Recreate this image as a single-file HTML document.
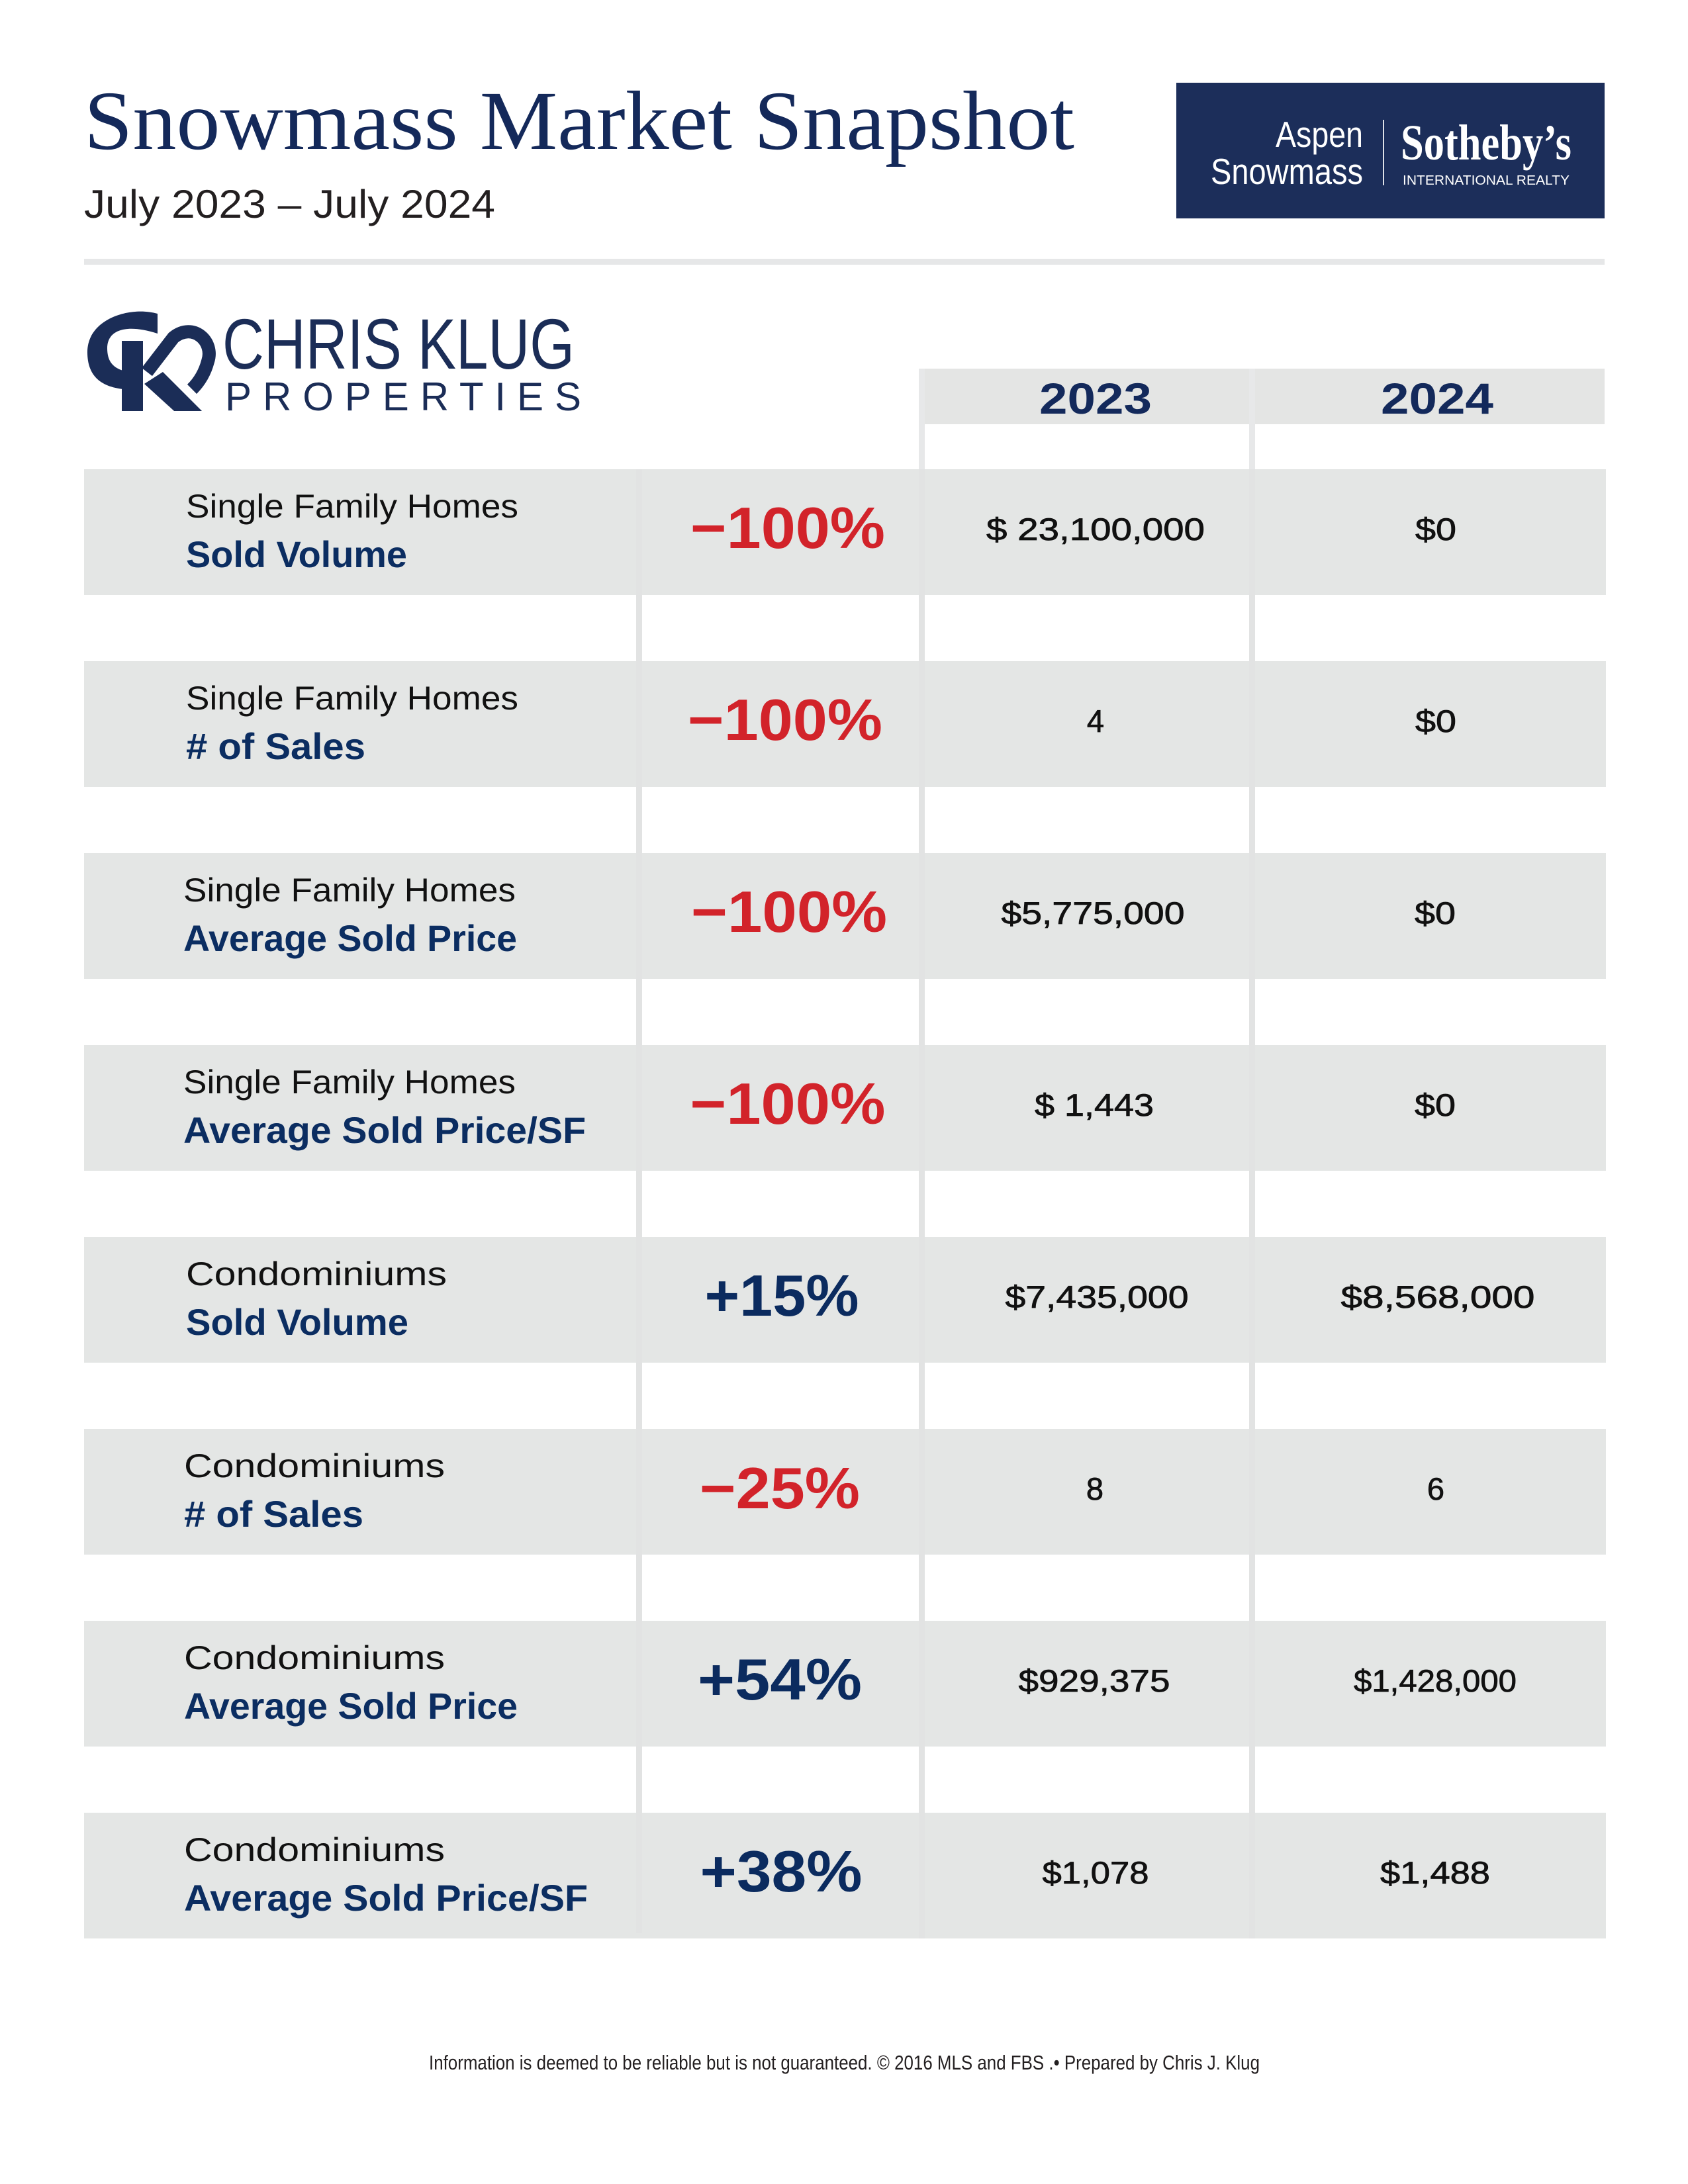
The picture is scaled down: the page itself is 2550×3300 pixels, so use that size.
<!DOCTYPE html>
<html>
<head>
<meta charset="utf-8">
<style>
  html, body { margin: 0; padding: 0; background: #ffffff; }
  body { width: 2550px; height: 3300px; overflow: hidden; }
  svg { display: block; }
  .sans { font-family: "Liberation Sans", "DejaVu Sans", sans-serif; }
  .serif { font-family: "Liberation Serif", "DejaVu Serif", serif; }
</style>
</head>
<body>
<svg width="2550" height="3300" viewBox="0 0 2550 3300" xmlns="http://www.w3.org/2000/svg">
  <rect x="0" y="0" width="2550" height="3300" fill="#ffffff"/>

  <!-- Title -->
  <text class="serif" x="127" y="225" font-size="127" fill="#14295a" textLength="1496" lengthAdjust="spacingAndGlyphs">Snowmass Market Snapshot</text>
  <text class="sans" x="127" y="329" font-size="60" fill="#231f20" textLength="621" lengthAdjust="spacingAndGlyphs">July 2023 – July 2024</text>

  <!-- Sotheby's box -->
  <rect x="1777" y="125" width="647" height="205" fill="#1c2e5a"/>
  <text class="sans" x="2059" y="222" font-size="55" fill="#ffffff" text-anchor="end" textLength="132" lengthAdjust="spacingAndGlyphs">Aspen</text>
  <text class="sans" x="2059" y="278" font-size="55" fill="#ffffff" text-anchor="end" textLength="230" lengthAdjust="spacingAndGlyphs">Snowmass</text>
  <rect x="2089" y="181" width="2" height="99" fill="#ffffff" opacity="0.85"/>
  <text class="serif" x="2116" y="241" font-size="76" font-weight="bold" fill="#ffffff" textLength="258" lengthAdjust="spacingAndGlyphs">Sotheby’s</text>
  <text class="sans" x="2119" y="279" font-size="20" fill="#ffffff" textLength="252" lengthAdjust="spacingAndGlyphs">INTERNATIONAL REALTY</text>

  <!-- Top rule -->
  <rect x="127" y="391" width="2297" height="9" fill="#e6e7e8"/>

  <!-- Chris Klug logo mark -->
  <g fill="#1b2d57">
    <path d="M 238 474 C 196 462, 132 482, 132 532 C 132 568, 152 584, 186 588 L 186 560 C 169 555, 162 544, 162 526 C 162 500, 188 488, 238 504 Z"/>
    <rect x="184" y="515" width="32" height="106"/>
    <polygon points="218,580 246,562 305,621 263,621"/>
    <path d="M 222 562 L 262 510 C 292 486, 324 516, 314 546 C 309 565, 300 578, 290 588" fill="none" stroke="#1b2d57" stroke-width="20"/>
  </g>
  <text class="sans" x="336" y="557" font-size="108" fill="#1b2d57" textLength="532" lengthAdjust="spacingAndGlyphs">CHRIS KLUG</text>
  <text class="sans" x="340" y="620" font-size="60" fill="#1b2d57" textLength="538" lengthAdjust="spacing">PROPERTIES</text>

  <!-- Header cells -->
  <rect x="1397" y="557" width="1027" height="84" fill="#e4e5e4"/>
  <text class="sans" x="1655" y="625" font-size="66" font-weight="bold" fill="#13295b" text-anchor="middle" textLength="170" lengthAdjust="spacingAndGlyphs">2023</text>
  <text class="sans" x="2171" y="625" font-size="66" font-weight="bold" fill="#13295b" text-anchor="middle" textLength="170" lengthAdjust="spacingAndGlyphs">2024</text>

  <!-- Column lines (behind rows) -->
  <rect x="961" y="709" width="9" height="2212" fill="#e7e8e9"/>
  <rect x="1388" y="557" width="9" height="2372" fill="#e7e8e9"/>
  <rect x="1887" y="557" width="9" height="2372" fill="#e7e8e9"/>

  <!-- Rows -->
  <g fill="#e4e6e5">
    <rect x="127" y="709" width="2299" height="190"/>
    <rect x="127" y="999" width="2299" height="190"/>
    <rect x="127" y="1289" width="2299" height="190"/>
    <rect x="127" y="1579" width="2299" height="190"/>
    <rect x="127" y="1869" width="2299" height="190"/>
    <rect x="127" y="2159" width="2299" height="190"/>
    <rect x="127" y="2449" width="2299" height="190"/>
    <rect x="127" y="2739" width="2299" height="190"/>
  </g>
  <!-- faint column lines inside rows -->
  <g fill="#e2e3e3">
    <rect x="961" y="709" width="9" height="2212"/>
    <rect x="1388" y="709" width="9" height="2220"/>
    <rect x="1887" y="709" width="9" height="2220"/>
  </g>

  <!-- Row 1 -->
  <g class="sans">
    <text x="281" y="782" font-size="50" fill="#111111" textLength="502" lengthAdjust="spacingAndGlyphs">Single Family Homes</text>
    <text x="281" y="857" font-size="56" font-weight="bold" fill="#0b2d61" textLength="334" lengthAdjust="spacingAndGlyphs">Sold Volume</text>
    <text x="1190" y="828" font-size="88" font-weight="bold" fill="#d2232a" text-anchor="middle" textLength="294" lengthAdjust="spacingAndGlyphs">−100%</text>
    <text x="1655" y="816" font-size="47" fill="#111111" stroke="#111111" stroke-width="0.8" text-anchor="middle" textLength="330" lengthAdjust="spacingAndGlyphs">$ 23,100,000</text>
    <text x="2169" y="816" font-size="47" fill="#111111" stroke="#111111" stroke-width="0.8" text-anchor="middle" textLength="62" lengthAdjust="spacingAndGlyphs">$0</text>
  </g>

  <!-- Row 2 -->
  <g class="sans">
    <text x="281" y="1072" font-size="50" fill="#111111" textLength="502" lengthAdjust="spacingAndGlyphs">Single Family Homes</text>
    <text x="281" y="1147" font-size="56" font-weight="bold" fill="#0b2d61" textLength="271" lengthAdjust="spacingAndGlyphs"># of Sales</text>
    <text x="1186" y="1118" font-size="88" font-weight="bold" fill="#d2232a" text-anchor="middle" textLength="294" lengthAdjust="spacingAndGlyphs">−100%</text>
    <text x="1655" y="1106" font-size="47" fill="#111111" stroke="#111111" stroke-width="0.8" text-anchor="middle">4</text>
    <text x="2169" y="1106" font-size="47" fill="#111111" stroke="#111111" stroke-width="0.8" text-anchor="middle" textLength="62" lengthAdjust="spacingAndGlyphs">$0</text>
  </g>

  <!-- Row 3 -->
  <g class="sans">
    <text x="277" y="1362" font-size="50" fill="#111111" textLength="502" lengthAdjust="spacingAndGlyphs">Single Family Homes</text>
    <text x="277" y="1437" font-size="56" font-weight="bold" fill="#0b2d61" textLength="504" lengthAdjust="spacingAndGlyphs">Average Sold Price</text>
    <text x="1192" y="1408" font-size="88" font-weight="bold" fill="#d2232a" text-anchor="middle" textLength="296" lengthAdjust="spacingAndGlyphs">−100%</text>
    <text x="1651" y="1396" font-size="47" fill="#111111" stroke="#111111" stroke-width="0.8" text-anchor="middle" textLength="277" lengthAdjust="spacingAndGlyphs">$5,775,000</text>
    <text x="2168" y="1396" font-size="47" fill="#111111" stroke="#111111" stroke-width="0.8" text-anchor="middle" textLength="62" lengthAdjust="spacingAndGlyphs">$0</text>
  </g>

  <!-- Row 4 -->
  <g class="sans">
    <text x="277" y="1652" font-size="50" fill="#111111" textLength="502" lengthAdjust="spacingAndGlyphs">Single Family Homes</text>
    <text x="277" y="1727" font-size="56" font-weight="bold" fill="#0b2d61" textLength="608" lengthAdjust="spacingAndGlyphs">Average Sold Price/SF</text>
    <text x="1190" y="1698" font-size="88" font-weight="bold" fill="#d2232a" text-anchor="middle" textLength="295" lengthAdjust="spacingAndGlyphs">−100%</text>
    <text x="1653" y="1686" font-size="47" fill="#111111" stroke="#111111" stroke-width="0.8" text-anchor="middle" textLength="180" lengthAdjust="spacingAndGlyphs">$ 1,443</text>
    <text x="2168" y="1686" font-size="47" fill="#111111" stroke="#111111" stroke-width="0.8" text-anchor="middle" textLength="62" lengthAdjust="spacingAndGlyphs">$0</text>
  </g>

  <!-- Row 5 -->
  <g class="sans">
    <text x="281" y="1942" font-size="50" fill="#111111" textLength="394" lengthAdjust="spacingAndGlyphs">Condominiums</text>
    <text x="281" y="2017" font-size="56" font-weight="bold" fill="#0b2d61" textLength="336" lengthAdjust="spacingAndGlyphs">Sold Volume</text>
    <text x="1181" y="1988" font-size="88" font-weight="bold" fill="#0b2b5f" text-anchor="middle" textLength="233" lengthAdjust="spacingAndGlyphs">+15%</text>
    <text x="1657" y="1976" font-size="47" fill="#111111" stroke="#111111" stroke-width="0.8" text-anchor="middle" textLength="277" lengthAdjust="spacingAndGlyphs">$7,435,000</text>
    <text x="2172" y="1976" font-size="47" fill="#111111" stroke="#111111" stroke-width="0.8" text-anchor="middle" textLength="293" lengthAdjust="spacingAndGlyphs">$8,568,000</text>
  </g>

  <!-- Row 6 -->
  <g class="sans">
    <text x="278" y="2232" font-size="50" fill="#111111" textLength="394" lengthAdjust="spacingAndGlyphs">Condominiums</text>
    <text x="278" y="2307" font-size="56" font-weight="bold" fill="#0b2d61" textLength="271" lengthAdjust="spacingAndGlyphs"># of Sales</text>
    <text x="1178" y="2279" font-size="88" font-weight="bold" fill="#d2232a" text-anchor="middle" textLength="242" lengthAdjust="spacingAndGlyphs">−25%</text>
    <text x="1654" y="2266" font-size="47" fill="#111111" stroke="#111111" stroke-width="0.8" text-anchor="middle">8</text>
    <text x="2169" y="2266" font-size="47" fill="#111111" stroke="#111111" stroke-width="0.8" text-anchor="middle">6</text>
  </g>

  <!-- Row 7 -->
  <g class="sans">
    <text x="278" y="2522" font-size="50" fill="#111111" textLength="394" lengthAdjust="spacingAndGlyphs">Condominiums</text>
    <text x="278" y="2597" font-size="56" font-weight="bold" fill="#0b2d61" textLength="504" lengthAdjust="spacingAndGlyphs">Average Sold Price</text>
    <text x="1178" y="2568" font-size="88" font-weight="bold" fill="#0b2b5f" text-anchor="middle" textLength="248" lengthAdjust="spacingAndGlyphs">+54%</text>
    <text x="1653" y="2556" font-size="47" fill="#111111" stroke="#111111" stroke-width="0.8" text-anchor="middle" textLength="229" lengthAdjust="spacingAndGlyphs">$929,375</text>
    <text x="2168" y="2556" font-size="47" fill="#111111" stroke="#111111" stroke-width="0.8" text-anchor="middle" textLength="246" lengthAdjust="spacingAndGlyphs">$1,428,000</text>
  </g>

  <!-- Row 8 -->
  <g class="sans">
    <text x="278" y="2812" font-size="50" fill="#111111" textLength="394" lengthAdjust="spacingAndGlyphs">Condominiums</text>
    <text x="278" y="2887" font-size="56" font-weight="bold" fill="#0b2d61" textLength="610" lengthAdjust="spacingAndGlyphs">Average Sold Price/SF</text>
    <text x="1180" y="2858" font-size="88" font-weight="bold" fill="#0b2b5f" text-anchor="middle" textLength="245" lengthAdjust="spacingAndGlyphs">+38%</text>
    <text x="1655" y="2846" font-size="47" fill="#111111" stroke="#111111" stroke-width="0.8" text-anchor="middle" textLength="161" lengthAdjust="spacingAndGlyphs">$1,078</text>
    <text x="2168" y="2846" font-size="47" fill="#111111" stroke="#111111" stroke-width="0.8" text-anchor="middle" textLength="166" lengthAdjust="spacingAndGlyphs">$1,488</text>
  </g>

  <!-- Footer -->
  <text class="sans" x="648" y="3127" font-size="31" fill="#231f20" textLength="1255" lengthAdjust="spacingAndGlyphs">Information is deemed to be reliable but is not guaranteed. © 2016 MLS and FBS .• Prepared by Chris J. Klug</text>
</svg>
</body>
</html>
